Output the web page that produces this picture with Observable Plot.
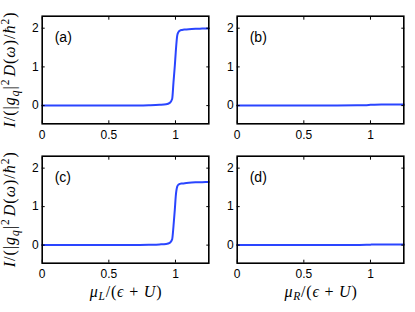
<!DOCTYPE html>
<html>
<head>
<meta charset="utf-8">
<script src="https://cdn.jsdelivr.net/npm/d3@7"></script>
<script src="https://cdn.jsdelivr.net/npm/@observablehq/plot@0.6"></script>
<style>
  html, body { margin: 0; padding: 0; background: #fff; }
  #chart { position: relative; width: 415px; height: 312px; background: #fff; }
  #chart svg { position: absolute; overflow: visible; }
</style>
</head>
<body>
<div id="chart"></div>
<script>
// ---- data ----
const panelLabels = ["(a)", "(b)", "(c)", "(d)"];
const xTicks = [0, 0.5, 1];
const yTicks = [0, 1, 2];
const xTickLabels = ["0", "0.5", "1"];
const yTickLabels = ["0", "1", "2"];

// (a) and (c): current vs mu_L
const xStep = [0, 0.25, 0.5, 0.7, 0.8, 0.88, 0.93, 0.957, 0.975, 0.985, 0.995, 1.002, 1.013, 1.022, 1.033, 1.05, 1.07, 1.1, 1.15, 1.2, 1.25];
const yA = [0, 0, 0, 0.004, 0.01, 0.02, 0.033, 0.07, 0.17, 0.6, 1.03, 1.38, 1.81, 1.9, 1.94, 1.955, 1.965, 1.975, 1.985, 1.99, 1.995];
const yC = [0, 0, 0, 0.004, 0.01, 0.018, 0.03, 0.06, 0.15, 0.49, 0.92, 1.27, 1.52, 1.57, 1.59, 1.6, 1.61, 1.62, 1.63, 1.635, 1.64];

// (b) and (d): current vs mu_R
const xFlat = [0, 0.5, 0.75, 0.9, 0.97, 1.0, 1.03, 1.1, 1.25];
const yB = [0, 0, 0.003, 0.008, 0.012, 0.02, 0.025, 0.026, 0.027];
const yD = [0, 0, 0.002, 0.005, 0.008, 0.012, 0.015, 0.016, 0.017];

const xDomain = [0, 1.25];
const yDomain = [-0.47, 2.31];

// ---- layout ----
const lineColor = "#2a45ff";
const tickFont = "'Liberation Sans', Arial, sans-serif";
const mathFont = "'Liberation Serif', 'Times New Roman', serif";

const panels = [
  {xs: xStep, ys: yA, label: panelLabels[0], left: 0,   top: 0,   width: 212, height: 140, mL: 41.7, mR: 3.7,  mT: 15.7, mB: 16.7},
  {xs: xFlat, ys: yB, label: panelLabels[1], left: 212, top: 0,   width: 203, height: 140, mL: 24.7, mR: 11.7, mT: 15.7, mB: 16.7},
  {xs: xStep, ys: yC, label: panelLabels[2], left: 0,   top: 140, width: 212, height: 172, mL: 41.7, mR: 3.7,  mT: 15.7, mB: 49.3},
  {xs: xFlat, ys: yD, label: panelLabels[3], left: 212, top: 140, width: 203, height: 172, mL: 24.7, mR: 11.7, mT: 15.7, mB: 49.3}
];

const chart = document.getElementById("chart");

function makePanel(p) {
  const data = p.xs.map((x, i) => ({x, y: p.ys[i]}));
  const svg = Plot.plot({
    width: p.width,
    height: p.height,
    marginLeft: p.mL,
    marginRight: p.mR,
    marginTop: p.mT,
    marginBottom: p.mB,
    style: {fontFamily: tickFont, fontSize: "12px", color: "black", background: "transparent"},
    x: {domain: xDomain},
    y: {domain: yDomain},
    marks: [
      Plot.line(data, {x: "x", y: "y", stroke: lineColor, strokeWidth: 2, curve: "monotone-x"}),
      Plot.axisX({ticks: xTicks, tickSize: -3, tickPadding: 9.5, tickFormat: d => xTickLabels[xTicks.indexOf(d)], label: null, fontSize: 12}),
      Plot.axisX({anchor: "top", ticks: xTicks, tickSize: -3, tickFormat: () => "", label: null}),
      Plot.axisY({ticks: yTicks, tickSize: -3, tickPadding: 6.4, tickFormat: d => yTickLabels[yTicks.indexOf(d)], label: null, fontSize: 12}),
      Plot.axisY({anchor: "right", ticks: yTicks, tickSize: -3, tickFormat: () => "", label: null}),
      Plot.frame({stroke: "black", strokeWidth: 1.6}),
      Plot.text([p.label], {text: d => d, frameAnchor: "top-left", dx: 12.5, dy: 21, textAnchor: "start", lineAnchor: "middle", fontSize: 14, fill: "black"})
    ]
  });
  svg.style.left = p.left + "px";
  svg.style.top = p.top + "px";
  chart.appendChild(svg);
  return svg;
}

const svgs = panels.map(makePanel);

// y-axis label: I/(|g_q|^2 D(ω)/ħ^2)
function addYLabel(svg, p) {
  const cy = p.mT + (p.height - p.mT - p.mB) / 2;
  const t = d3.select(svg).append("text")
    .attr("transform", `translate(15,${cy}) rotate(-90)`)
    .attr("text-anchor", "middle")
    .attr("font-family", mathFont)
    .attr("font-size", 16)
    .attr("letter-spacing", 1)
    .attr("fill", "black");
  const parts = [
    {s: "I", it: true}, {s: "/(|"}, {s: "g", it: true},
    {s: "q", it: true, sub: true}, {s: "|"}, {s: "2", sup: true},
    {s: "D", it: true, dx: 2}, {s: "("}, {s: "ω", it: true}, {s: ")/"},
    {s: "ħ", it: true}, {s: "2", sup: true}, {s: ")"}
  ];
  let shift = 0;
  parts.forEach(q => {
    const ts = t.append("tspan").text(q.s);
    if (q.it) ts.attr("font-style", "italic");
    let target = q.sub ? 4 : q.sup ? -6.5 : 0;
    if (q.sub || q.sup) ts.attr("font-size", 11.5);
    ts.attr("dy", target - shift);
    if (q.dx) ts.attr("dx", q.dx);
    shift = target;
  });
}

// x-axis label: μ_L/(ϵ+U)
function addXLabel(svg, p, sub) {
  const cx = p.mL + (p.width - p.mL - p.mR) / 2;
  const t = d3.select(svg).append("text")
    .attr("x", cx + 1)
    .attr("y", p.height - 15.5)
    .attr("text-anchor", "middle")
    .attr("font-family", mathFont)
    .attr("font-size", 16)
    .attr("letter-spacing", 0.8)
    .attr("fill", "black");
  t.append("tspan").attr("font-style", "italic").text("μ");
  t.append("tspan").attr("font-style", "italic").attr("font-size", 11.5).attr("dy", 3.5).text(sub);
  t.append("tspan").attr("dy", -3.5).text("/(");
  t.append("tspan").attr("font-style", "italic").text("ϵ");
  t.append("tspan").text(" + ");
  t.append("tspan").attr("font-style", "italic").text("U");
  t.append("tspan").text(")");
}

addYLabel(svgs[0], panels[0]);
addYLabel(svgs[2], panels[2]);
addXLabel(svgs[2], panels[2], "L");
addXLabel(svgs[3], panels[3], "R");
</script>
</body>
</html>
